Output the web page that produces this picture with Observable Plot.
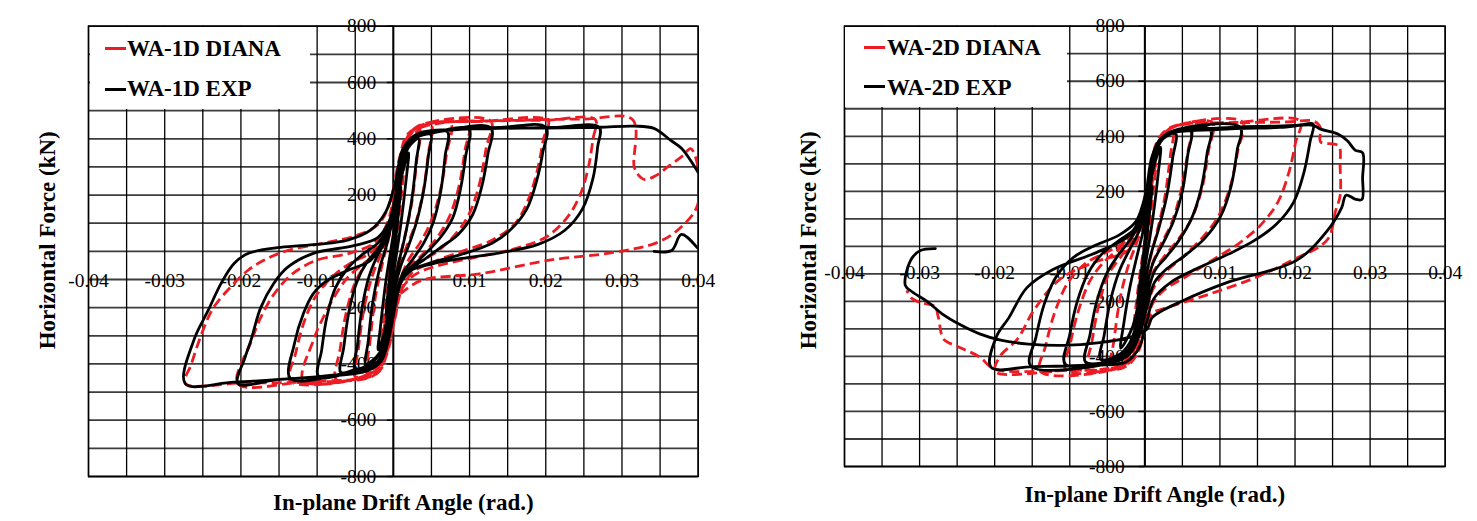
<!DOCTYPE html>
<html>
<head>
<meta charset="utf-8">
<script src="https://cdn.jsdelivr.net/npm/d3@7"></script>
<script src="https://cdn.jsdelivr.net/npm/@observablehq/plot@0.6"></script>
<style>
  html, body { margin: 0; padding: 0; background: #fff; }
  body { width: 1477px; height: 521px; position: relative; overflow: hidden; font-family: "Liberation Serif", "Times New Roman", serif; }
  #p1 { position: absolute; left: 0; top: 0; }
  #p2 { position: absolute; left: 740px; top: 0; }
  .lgbox { position: absolute; background: #fff; }
  .sw { position: absolute; width: 21px; height: 3px; }
  .lt { position: absolute; font: bold 23px/23px "Liberation Serif", "Times New Roman", serif; color: #000; white-space: nowrap; }
</style>
</head>
<body>
<div id="p1"></div>
<div id="p2"></div>
<div id="legend1"></div>
<div id="legend2"></div>
<script>
// ---------- ticks & labels ----------
const xGridTicks = [-0.04,-0.035,-0.03,-0.025,-0.02,-0.015,-0.01,-0.005,0,0.005,0.01,0.015,0.02,0.025,0.03,0.035,0.04];
const yGridTicks = [-800,-700,-600,-500,-400,-300,-200,-100,0,100,200,300,400,500,600,700,800];
const xLabelTicks = [-0.04,-0.03,-0.02,-0.01,0,0.01,0.02,0.03,0.04];
const yLabelTicks = [-800,-600,-400,-200,0,200,400,600,800];
const xTitle = "In-plane Drift Angle (rad.)";
const yTitle = "Horizontal Force (kN)";
const seriesNames1 = ["WA-1D DIANA", "WA-1D EXP"];
const seriesNames2 = ["WA-2D DIANA", "WA-2D EXP"];
const seriesColors = ["#ED1C24", "#000000"];
const serif = "'Liberation Serif','Times New Roman',serif";

// ---------- WA-1D : DIANA (drift rad, force kN) ----------
const wa1Diana = [
 [0,0],[0.0005,150],[0.001,260],[0.0015,320],[0.0012,240],[0.0006,90],[0,-40],[-0.0006,-170],[-0.0015,-310],[-0.0012,-230],[-0.0005,-80],[0,20],
 [0.0006,190],[0.0013,330],[0.0022,400],[0.0035,430],[0.0031,330],[0.0024,170],[0.0014,40],[0.0005,-60],[-0.0004,-200],[-0.0013,-340],[-0.0023,-410],[-0.0035,-430],[-0.0031,-330],[-0.0024,-170],[-0.0014,-40],[-0.0005,60],
 [0.0004,180],[0.0012,340],[0.0024,420],[0.005,445],[0.0046,350],[0.0039,210],[0.0028,90],[0.0015,0],[0.0005,-90],[-0.0004,-230],[-0.0014,-360],[-0.0027,-425],[-0.005,-445],[-0.0046,-350],[-0.0039,-210],[-0.0028,-90],[-0.0015,0],[-0.0005,80],
 [0.0003,200],[0.0012,360],[0.0026,430],[0.0075,455],[0.007,350],[0.0062,220],[0.005,110],[0.0035,30],[0.002,-30],[0.0008,-110],[-0.0002,-250],[-0.0012,-370],[-0.0027,-430],[-0.0075,-455],[-0.007,-350],[-0.0062,-220],[-0.005,-110],[-0.0035,-40],[-0.002,10],[-0.0007,80],
 [0.0004,230],[0.0013,370],[0.0028,435],[0.0099,460],[0.0094,360],[0.0086,230],[0.0073,120],[0.0055,40],[0.0035,-20],[0.0018,-60],[0.0006,-130],[-0.0003,-260],[-0.0013,-380],[-0.003,-435],[-0.0118,-460],[-0.0105,-317],[-0.0092,-235],[-0.0078,-164],[-0.006,-93],[-0.0039,-43],[-0.002,0],[-0.0007,70],
 [0.0004,220],[0.0014,370],[0.003,440],[0.0128,462],[0.0122,370],[0.0113,240],[0.0099,130],[0.0078,50],[0.0055,-5],[0.003,-45],[0.0012,-90],[0.0002,-200],[-0.0008,-330],[-0.002,-420],[-0.0135,-462],[-0.0128,-360],[-0.0117,-250],[-0.0102,-160],[-0.008,-90],[-0.0055,-40],[-0.003,-5],[-0.001,60],
 [0.0003,220],[0.0014,370],[0.003,440],[0.012,462],[0.0203,465],[0.0197,400],[0.019,300],[0.0178,190],[0.016,100],[0.013,40],[0.009,0],[0.005,-40],[0.0025,-75],[0.001,-140],[0,-260],[-0.001,-370],[-0.0025,-440],[-0.012,-465],[-0.0204,-470],[-0.0186,-317],[-0.0174,-235],[-0.0156,-150],[-0.0132,-79],[-0.0101,-32],[-0.0058,-7],[-0.0025,30],[-0.0008,100],
 [0.0004,250],[0.0015,380],[0.0032,445],[0.012,462],[0.02,466],[0.0265,468],[0.0262,400],[0.0256,300],[0.0245,200],[0.0228,120],[0.02,50],[0.016,10],[0.011,-20],[0.006,-50],[0.003,-80],[0.0012,-130],[0.0002,-240],[-0.0008,-360],[-0.0022,-435],[-0.01,-462],[-0.02,-468],[-0.0273,-470],[-0.0265,-400],[-0.025,-282],[-0.0236,-200],[-0.0214,-128],[-0.0191,-68],[-0.017,-32],[-0.0139,3],[-0.009,30],[-0.005,55],[-0.002,95],[-0.0005,170],
 [0.0008,330],[0.002,420],[0.006,455],[0.015,465],[0.025,470],[0.0314,468],[0.0316,300],[0.0322,270],[0.033,255],[0.0345,270],[0.036,300],[0.038,340],[0.039,365],[0.0398,320],[0.0399,163],[0.0375,80],[0.0347,32],[0.0289,-4],[0.0203,-32],[0.0115,-79],[0.0036,-104],[0.001,-150]
];

// ---------- WA-1D : EXP ----------
const wa1Exp = [
 [0,0],[0.0004,110],[0.001,230],[0.0008,170],[0.0003,40],[-0.0002,-60],[-0.0006,-150],[-0.001,-230],[-0.0008,-170],[-0.0003,-50],[0,20],
 [0.0005,150],[0.0012,280],[0.002,350],[0.0017,260],[0.001,100],[0.0003,-30],[-0.0005,-170],[-0.0012,-290],[-0.002,-350],[-0.0017,-270],[-0.001,-110],[-0.0003,10],
 [0.0003,120],[0.001,290],[0.002,370],[0.0033,400],[0.003,320],[0.0024,180],[0.0015,50],[0.0007,-40],[0,-130],[-0.0008,-270],[-0.0018,-360],[-0.0036,-400],[-0.0033,-320],[-0.0027,-180],[-0.0018,-60],[-0.0008,30],
 [0,130],[0.0008,290],[0.0018,380],[0.003,405],[0.0049,415],[0.0046,340],[0.004,220],[0.003,100],[0.002,20],[0.001,-50],[0.0002,-130],[-0.0006,-250],[-0.0015,-350],[-0.003,-400],[-0.005,-415],[-0.0047,-330],[-0.0041,-200],[-0.0032,-90],[-0.002,-10],[-0.0008,50],
 [0.0002,170],[0.001,320],[0.002,390],[0.004,415],[0.0071,425],[0.0068,340],[0.0062,210],[0.0052,100],[0.004,30],[0.0025,-30],[0.0012,-80],[0.0003,-160],[-0.0005,-280],[-0.0014,-370],[-0.003,-410],[-0.005,-420],[-0.0069,-430],[-0.0065,-340],[-0.0058,-210],[-0.0048,-110],[-0.0035,-40],[-0.002,10],[-0.0008,70],
 [0.0003,200],[0.0011,340],[0.0022,395],[0.005,420],[0.0099,434],[0.0095,340],[0.0088,220],[0.0078,120],[0.0062,50],[0.0045,0],[0.003,-40],[0.0015,-80],[0.0005,-150],[-0.0003,-260],[-0.0012,-360],[-0.0025,-405],[-0.005,-425],[-0.0098,-445],[-0.0094,-350],[-0.0087,-230],[-0.0076,-130],[-0.006,-60],[-0.004,-10],[-0.002,30],[-0.0008,80],
 [0.0004,210],[0.0012,340],[0.0025,400],[0.006,425],[0.0128,438],[0.0124,345],[0.0116,230],[0.0104,130],[0.0085,60],[0.006,10],[0.004,-30],[0.002,-70],[0.0007,-130],[-0.0002,-240],[-0.0011,-350],[-0.0024,-405],[-0.006,-430],[-0.0135,-452],[-0.013,-330],[-0.0118,-221],[-0.0105,-150],[-0.0087,-104],[-0.006,-68],[-0.003,-32],[-0.0012,40],
 [-0.0002,90],[0.0005,200],[0.0013,330],[0.0027,400],[0.007,430],[0.014,440],[0.02,441],[0.0196,350],[0.0188,250],[0.0175,150],[0.0155,80],[0.013,30],[0.009,-10],[0.005,-40],[0.0025,-65],[0.001,-110],[0.0002,-200],[-0.0006,-310],[-0.0016,-390],[-0.0035,-425],[-0.009,-445],[-0.015,-455],[-0.0204,-470],[-0.0195,-380],[-0.0187,-317],[-0.0174,-200],[-0.0157,-114],[-0.0139,-57],[-0.0105,-7],[-0.0052,20],[-0.002,50],[-0.0005,110],
 [0.0005,230],[0.0013,350],[0.0028,405],[0.008,432],[0.015,437],[0.021,440],[0.027,441],[0.0268,370],[0.0262,260],[0.0248,150],[0.0225,75],[0.019,25],[0.014,-5],[0.009,-25],[0.005,-45],[0.0025,-65],[0.0012,-100],[0.0003,-180],[-0.0006,-290],[-0.0015,-370],[-0.003,-415],[-0.008,-440],[-0.015,-455],[-0.021,-465],[-0.0273,-470],[-0.0262,-317],[-0.0243,-210],[-0.0226,-114],[-0.0209,-43],[-0.019,-7],[-0.0148,14],[-0.01,25],[-0.006,40],[-0.003,75],[-0.001,140],
 [0.0003,250],[0.0012,360],[0.003,415],[0.01,435],[0.02,438],[0.027,441],[0.0316,445],[0.0342,437],[0.0364,394],[0.0378,366],[0.04,280]
];
const wa1ExpTail = [[0.0342,0],[0.0365,3],[0.0378,60],[0.0399,12]];

// ---------- WA-2D : DIANA ----------
const wa2Diana = [
 [0,0],[0.0006,170],[0.0015,300],[0.0012,220],[0.0005,60],[-0.0002,-60],[-0.0008,-190],[-0.0015,-300],[-0.0012,-220],[-0.0005,-70],[0,20],
 [0.0006,190],[0.0014,330],[0.0024,400],[0.0038,430],[0.0034,330],[0.0026,170],[0.0015,40],[0.0005,-70],[-0.0005,-220],[-0.0015,-350],[-0.0027,-420],[-0.0045,-440],[-0.0041,-340],[-0.0033,-190],[-0.0022,-70],[-0.001,20],[-0.0002,90],
 [0.0007,230],[0.0016,360],[0.003,420],[0.0062,445],[0.0057,340],[0.0048,200],[0.0035,80],[0.002,0],[0.0008,-80],[-0.0002,-220],[-0.0012,-360],[-0.0027,-430],[-0.0075,-448],[-0.007,-340],[-0.0061,-210],[-0.0048,-100],[-0.003,-30],[-0.0013,40],[-0.0003,110],
 [0.0007,240],[0.0017,370],[0.0032,425],[0.009,450],[0.0085,350],[0.0076,210],[0.0062,100],[0.0043,20],[0.0025,-40],[0.001,-100],[0,-220],[-0.001,-360],[-0.0026,-430],[-0.0105,-450],[-0.0099,-350],[-0.0088,-230],[-0.0072,-120],[-0.0052,-50],[-0.003,0],[-0.0012,60],[-0.0002,130],
 [0.0008,260],[0.0018,380],[0.0035,430],[0.013,452],[0.0124,350],[0.0114,220],[0.0098,110],[0.0076,30],[0.005,-40],[0.0025,-100],[0.001,-160],[0,-270],[-0.001,-380],[-0.0028,-435],[-0.0139,-455],[-0.0132,-360],[-0.012,-240],[-0.0102,-130],[-0.0078,-60],[-0.005,-20],[-0.0025,20],[-0.0008,90],
 [0.0006,260],[0.0018,390],[0.0037,435],[0.012,450],[0.0207,455],[0.0201,380],[0.0192,270],[0.0177,160],[0.0155,80],[0.0125,10],[0.009,-50],[0.0055,-110],[0.0025,-160],[0.001,-210],[0,-300],[-0.001,-390],[-0.0028,-440],[-0.01,-450],[-0.0199,-455],[-0.0193,-400],[-0.017,-338],[-0.0147,-229],[-0.0112,-117],[-0.0064,-55],[-0.0025,-20],[-0.0007,40],
 [0.0003,180],[0.0015,360],[0.0035,430],[0.012,448],[0.019,452],[0.0225,455],[0.0234,430],[0.0234,380],[0.0258,365],[0.026,292],[0.026,183],[0.0254,129],[0.0243,24],[0.0196,-51],[0.0145,-116],[0.0081,-178],[0.0022,-229],[0.001,-243],[-0.0003,-330],[-0.0015,-410],[-0.004,-440],[-0.012,-452],[-0.0201,-445],[-0.022,-402],[-0.025,-363],[-0.0268,-337],[-0.0275,-258],[-0.028,-218],[-0.0298,-205],[-0.031,-190],[-0.0317,-160]
];

// ---------- WA-2D : EXP ----------
const wa2Exp = [
 [0,0],[0.0005,130],[0.001,220],[0.0007,140],[0.0002,20],[-0.0003,-80],[-0.001,-210],[-0.0007,-140],[-0.0002,-30],[0,20],
 [0.0005,170],[0.0012,290],[0.0021,360],[0.0018,270],[0.0011,110],[0.0003,-30],[-0.0006,-170],[-0.0016,-290],[-0.0032,-370],[-0.0028,-280],[-0.002,-150],[-0.001,-30],[-0.0002,60],
 [0.0004,180],[0.0012,320],[0.0024,390],[0.0041,410],[0.0037,320],[0.0029,180],[0.0018,60],[0.0008,-30],[0,-130],[-0.0009,-260],[-0.002,-350],[-0.0035,-395],[-0.0059,-410],[-0.0054,-320],[-0.0046,-200],[-0.0034,-90],[-0.002,-10],[-0.0007,60],
 [0.0003,180],[0.0012,330],[0.0026,400],[0.0061,420],[0.0057,330],[0.005,200],[0.0038,90],[0.0024,10],[0.0011,-60],[0.0002,-150],[-0.0007,-270],[-0.0018,-360],[-0.0035,-405],[-0.0079,-420],[-0.0073,-320],[-0.0064,-200],[-0.0051,-100],[-0.0035,-30],[-0.0018,30],[-0.0006,90],
 [0.0003,200],[0.0012,340],[0.0027,405],[0.0087,425],[0.0083,340],[0.0075,210],[0.0062,100],[0.0045,20],[0.0028,-40],[0.0013,-90],[0.0003,-180],[-0.0006,-290],[-0.0017,-370],[-0.0035,-410],[-0.0106,-428],[-0.01,-320],[-0.009,-200],[-0.0076,-100],[-0.0058,-30],[-0.0035,20],[-0.0015,60],[-0.0004,120],
 [0.0003,210],[0.0013,350],[0.003,410],[0.0127,432],[0.0123,350],[0.0115,220],[0.0101,110],[0.008,30],[0.0055,-30],[0.003,-80],[0.0013,-130],[0.0003,-220],[-0.0007,-320],[-0.002,-390],[-0.004,-420],[-0.0152,-435],[-0.0145,-330],[-0.0134,-210],[-0.0118,-110],[-0.0095,-40],[-0.0065,5],[-0.0035,40],[-0.0012,90],[-0.0002,160],
 [0.0006,260],[0.0015,360],[0.0032,410],[0.01,430],[0.0165,437],[0.0205,440],[0.0224,445],[0.022,380],[0.0212,270],[0.0198,160],[0.0175,80],[0.0145,20],[0.011,-30],[0.007,-80],[0.0035,-130],[0.0012,-190],[0.0002,-280],[-0.0008,-370],[-0.0025,-420],[-0.008,-432],[-0.015,-437],[-0.0205,-439],[-0.0198,-330],[-0.0181,-259],[-0.0157,-150],[-0.0123,-85],[-0.0064,-22],[-0.0025,30],[-0.0007,80],
 [0.0002,200],[0.001,330],[0.0025,400],[0.01,425],[0.018,432],[0.0224,440],[0.0234,426],[0.0257,408],[0.027,383],[0.028,350],[0.029,340],[0.029,250],[0.0289,170],[0.028,172],[0.0268,186],[0.0262,140],[0.0243,57],[0.0202,-51],[0.011,-131],[0.0052,-196],[0.001,-258],[0.0003,-300],[-0.002,-330],[-0.006,-350],[-0.011,-360],[-0.0155,-355],[-0.0192,-341],[-0.022,-318],[-0.0245,-286],[-0.027,-245],[-0.029,-200],[-0.031,-165],[-0.0319,-142],[-0.0312,-51],[-0.0299,-15],[-0.0279,-8]
];

const fmtX = d => d === 0 ? "0" : d.toFixed(2);

function panel(o) {
  const lineOpts = (i) => ({
    x: d => d[0], y: d => d[1], stroke: seriesColors[i], strokeWidth: 2.8,
    strokeDasharray: i === 0 ? "10,5" : null, curve: "catmull-rom", clip: true,
    strokeLinejoin: "round", strokeLinecap: i === 0 ? "butt" : "round"
  });
  return Plot.plot({
    width: o.width, height: 521,
    marginLeft: o.marginLeft, marginRight: o.marginRight, marginTop: 25.7, marginBottom: o.marginBottom,
    x: {domain: [-0.04, 0.04], axis: null},
    y: {domain: [-800, 800], axis: null},
    style: {fontFamily: serif, background: "transparent", color: "#000"},
    marks: [
      Plot.ruleY(yGridTicks, {y: d => d, stroke: "#3c3c3c", strokeWidth: 1.8}),
      Plot.ruleX(xGridTicks, {x: d => d, stroke: "#000", strokeWidth: 1.3}),
      Plot.frame({stroke: "#000", strokeWidth: 1.5}),
      Plot.ruleX([0], {x: d => d, stroke: "#000", strokeWidth: 2}),
      Plot.ruleY(yLabelTicks, {y: d => d, x1: () => 0, x2: () => 0, insetLeft: -6, stroke: "#000", strokeWidth: 1.5}),
      Plot.text(xLabelTicks, {x: d => d, y: () => 0, dy: o.labelDy, text: fmtX, fontSize: 19.5, fontFamily: serif, fill: "#000"}),
      Plot.text(yLabelTicks, {x: () => 0, y: d => d, dx: o.labelDx, textAnchor: "end", text: d => String(d), fontSize: 19.5, fontFamily: serif, fill: "#000"}),
      ...o.diana.map(seg => Plot.line(seg, lineOpts(0))),
      ...o.exp.map(seg => Plot.line(seg, lineOpts(1))),
      Plot.text([xTitle], {frameAnchor: "bottom", lineAnchor: "middle", textAnchor: "middle", text: d => d, dx: o.xTitleDx, dy: o.xTitleDy, fontSize: 23, fontWeight: "bold", fontFamily: serif, fill: "#000"}),
      Plot.text([yTitle], {frameAnchor: "left", lineAnchor: "middle", textAnchor: "middle", text: d => d, rotate: -90, dx: o.yTitleDx, dy: o.yTitleDy, fontSize: 23, fontWeight: "bold", fontFamily: serif, fill: "#000"})
    ]
  });
}

document.getElementById("p1").appendChild(panel({
  width: 740, marginLeft: 88, marginRight: 42.3, marginBottom: 45,
  labelDy: 29, labelDx: -17, xTitleDx: 10, xTitleDy: 26, yTitleDx: -41, yTitleDy: -11,
  diana: [wa1Diana], exp: [wa1Exp, wa1ExpTail]
}));
document.getElementById("p2").appendChild(panel({
  width: 737, marginLeft: 104, marginRight: 32.3, marginBottom: 55,
  labelDy: 26.5, labelDx: -20, xTitleDx: 10, xTitleDy: 28, yTitleDx: -36, yTitleDy: -6,
  diana: [wa2Diana], exp: [wa2Exp]
}));

// ---------- legends ----------
function legend(el, names, box, sw, tx) {
  const root = document.getElementById(el);
  const b = document.createElement("div");
  b.className = "lgbox";
  Object.assign(b.style, {left: box[0] + "px", top: box[1] + "px", width: box[2] + "px", height: box[3] + "px"});
  root.appendChild(b);
  names.forEach((n, i) => {
    const s = document.createElement("div");
    s.className = "sw";
    Object.assign(s.style, {left: sw[0] + "px", top: sw[1 + i] + "px", background: seriesColors[i]});
    root.appendChild(s);
    const t = document.createElement("div");
    t.className = "lt";
    t.textContent = n;
    Object.assign(t.style, {left: tx[0] + "px", top: tx[1 + i] + "px"});
    root.appendChild(t);
  });
}
legend("legend1", seriesNames1, [90, 27, 220, 82], [105, 46.5, 87.5], [127, 37.4, 76.7]);
legend("legend2", seriesNames2, [845, 27, 222, 80], [864, 46.2, 85.2], [887, 36.4, 75.7]);
</script>
</body>
</html>
